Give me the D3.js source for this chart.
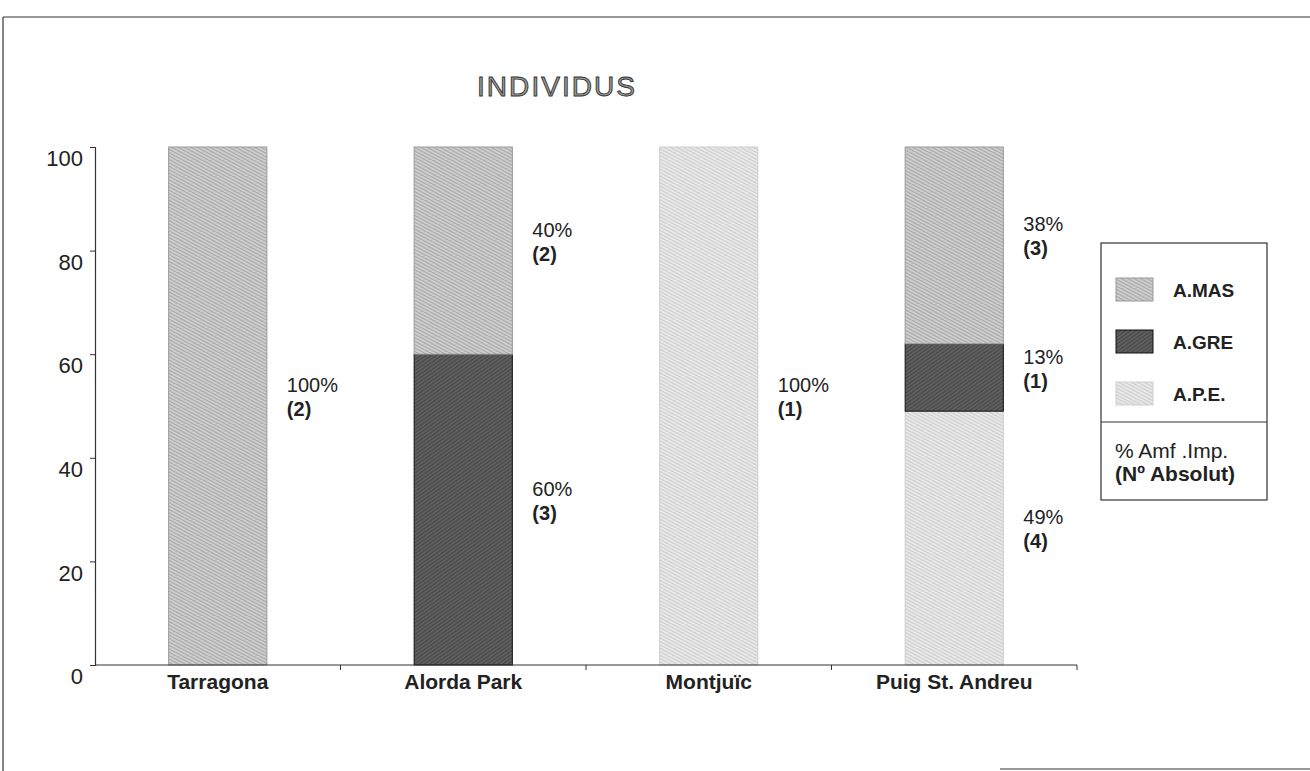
<!DOCTYPE html>
<html><head><meta charset="utf-8">
<script src="https://cdn.jsdelivr.net/npm/d3@7"></script>
<style>body{margin:0;background:#fff}svg{display:block}</style>
</head><body>
<svg id="c" width="1310" height="771"></svg>
<script>
const categories = ["Tarragona", "Alorda Park", "Montjuïc", "Puig St. Andreu"];
const seriesNames = ["A.PE", "A.GRE", "A.MAS"]; // stacking order bottom -> top
const legendLabels = ["A.MAS", "A.GRE", "A.P.E."];
const apeValues = [0, 0, 100, 49];
const greValues = [0, 60, 0, 13];
const masValues = [100, 40, 0, 38];
const apeCounts = [0, 0, 1, 4];
const greCounts = [0, 3, 0, 1];
const masCounts = [2, 2, 0, 3];
const yTicks = [0, 20, 40, 60, 80, 100];
const title = "INDIVIDUS";
const legendNote1 = "% Amf .Imp.";
const legendNote2 = "(Nº Absolut)";

const svg = d3.select("#c");
const font = "Liberation Sans, Arial, sans-serif";

// patterns
const defs = svg.append("defs");
function hatch(id, bg, line, sw, gap, angle) {
  const p = defs.append("pattern").attr("id", id).attr("patternUnits", "userSpaceOnUse")
    .attr("width", 8).attr("height", gap).attr("patternTransform", `rotate(${angle})`);
  p.append("rect").attr("width", 8).attr("height", gap).attr("fill", bg);
  p.append("line").attr("x1", 0).attr("x2", 8).attr("y1", gap / 2).attr("y2", gap / 2)
    .attr("stroke", line).attr("stroke-width", sw);
}
hatch("pMAS", "#d2d2d2", "#a6a6a6", 1.2, 3, 28);
hatch("pPE", "#e9e9e9", "#cdcdcd", 1.1, 3, 28);
hatch("pGRE", "#606060", "#484848", 1.2, 3, -35);
const fills = { "A.PE": "url(#pPE)", "A.GRE": "url(#pGRE)", "A.MAS": "url(#pMAS)" };
const strokes = { "A.PE": "#d0d0d0", "A.GRE": "#111", "A.MAS": "#999" };

// frame
svg.append("line").attr("x1", 3).attr("x2", 1310).attr("y1", 17).attr("y2", 17).attr("stroke", "#333").attr("stroke-width", 1.2);
svg.append("line").attr("x1", 3).attr("x2", 3).attr("y1", 17).attr("y2", 771).attr("stroke", "#333").attr("stroke-width", 1.2);
svg.append("line").attr("x1", 1000).attr("x2", 1310).attr("y1", 769).attr("y2", 769).attr("stroke", "#333").attr("stroke-width", 1.2);

// scales
const x = d3.scaleBand().domain(categories).range([95, 1077]).paddingInner(0.6).paddingOuter(0.3);
const y = d3.scaleLinear().domain([0, 100]).range([665, 147]);

const rows = categories.map((c, i) => ({ cat: c, "A.PE": apeValues[i], "A.GRE": greValues[i], "A.MAS": masValues[i] }));
const counts = { "A.PE": apeCounts, "A.GRE": greCounts, "A.MAS": masCounts };
const stack = d3.stack().keys(seriesNames)(rows);

// bars
stack.forEach(layer => {
  svg.append("g").selectAll("rect").data(layer.filter(d => d[1] > d[0])).join("rect")
    .attr("x", d => x(d.data.cat)).attr("width", x.bandwidth())
    .attr("y", d => y(d[1])).attr("height", d => y(d[0]) - y(d[1]))
    .attr("fill", fills[layer.key]).attr("stroke", strokes[layer.key]).attr("stroke-width", 1);
});

// value labels
stack.forEach(layer => {
  layer.forEach((d, i) => {
    if (d[1] <= d[0]) return;
    const v = d[1] - d[0];
    const cx = x(d.data.cat) + x.bandwidth() + 20;
    const cy = y((d[0] + d[1]) / 2);
    svg.append("text").attr("x", cx).attr("y", cy - 14).attr("font-family", font)
      .attr("font-size", 20).attr("fill", "#222").text(v + "%");
    svg.append("text").attr("x", cx).attr("y", cy + 10).attr("font-family", font)
      .attr("font-size", 20).attr("font-weight", "bold").attr("fill", "#222")
      .text("(" + counts[layer.key][i] + ")");
  });
});

// y axis
const yAxis = d3.axisLeft(y).tickValues(yTicks).tickSize(5).tickPadding(8);
const gy = svg.append("g").attr("transform", "translate(95,0)").call(yAxis);
gy.select(".domain").attr("stroke", "#333").attr("stroke-width", 1.2);
gy.selectAll(".tick line").attr("stroke", "#333");
gy.selectAll(".tick text").attr("font-family", font).attr("font-size", 22).attr("fill", "#222").attr("dy", "0.85em").attr("x", -12);

// x axis (ticks at band boundaries)
const step = x.step();
const bounds = categories.map(c => x(c) - (step - x.bandwidth()) / 2 + step);
const gx = svg.append("g");
gx.append("line").attr("x1", 95).attr("x2", 1077).attr("y1", 665).attr("y2", 665).attr("stroke", "#333").attr("stroke-width", 1.2);
gx.selectAll("line.tk").data(bounds).join("line").attr("class", "tk")
  .attr("x1", d => d).attr("x2", d => d).attr("y1", 665).attr("y2", 670).attr("stroke", "#333");
gx.selectAll("text").data(categories).join("text")
  .attr("x", d => x(d) + x.bandwidth() / 2).attr("y", 689).attr("text-anchor", "middle")
  .attr("font-family", font).attr("font-size", 21).attr("font-weight", "bold").attr("fill", "#222").text(d => d);

// title
svg.append("text").attr("x", 556).attr("y", 96).attr("text-anchor", "middle")
  .attr("font-family", font).attr("font-size", 28).attr("fill", "#999")
  .attr("stroke", "#333").attr("stroke-width", 0.9).attr("textLength", 158).text(title);

// legend
const lg = svg.append("g");
lg.append("rect").attr("x", 1101).attr("y", 243).attr("width", 166).attr("height", 257)
  .attr("fill", "#fff").attr("stroke", "#333").attr("stroke-width", 1.2);
lg.append("line").attr("x1", 1101).attr("x2", 1267).attr("y1", 422).attr("y2", 422).attr("stroke", "#333").attr("stroke-width", 1.2);
const legKeys = ["A.MAS", "A.GRE", "A.PE"];
legKeys.forEach((k, i) => {
  const yy = 278 + i * 52;
  lg.append("rect").attr("x", 1116).attr("y", yy).attr("width", 37).attr("height", 23)
    .attr("fill", fills[k]).attr("stroke", strokes[k]);
  lg.append("text").attr("x", 1173).attr("y", yy + 19).attr("font-family", font)
    .attr("font-size", 19).attr("font-weight", "bold").attr("fill", "#222").text(legendLabels[i]);
});
lg.append("text").attr("x", 1115).attr("y", 458).attr("font-family", font).attr("font-size", 21).attr("fill", "#222").text(legendNote1);
lg.append("text").attr("x", 1115).attr("y", 481).attr("font-family", font).attr("font-size", 21).attr("font-weight", "bold").attr("fill", "#222").text(legendNote2);
</script>
</body></html>
